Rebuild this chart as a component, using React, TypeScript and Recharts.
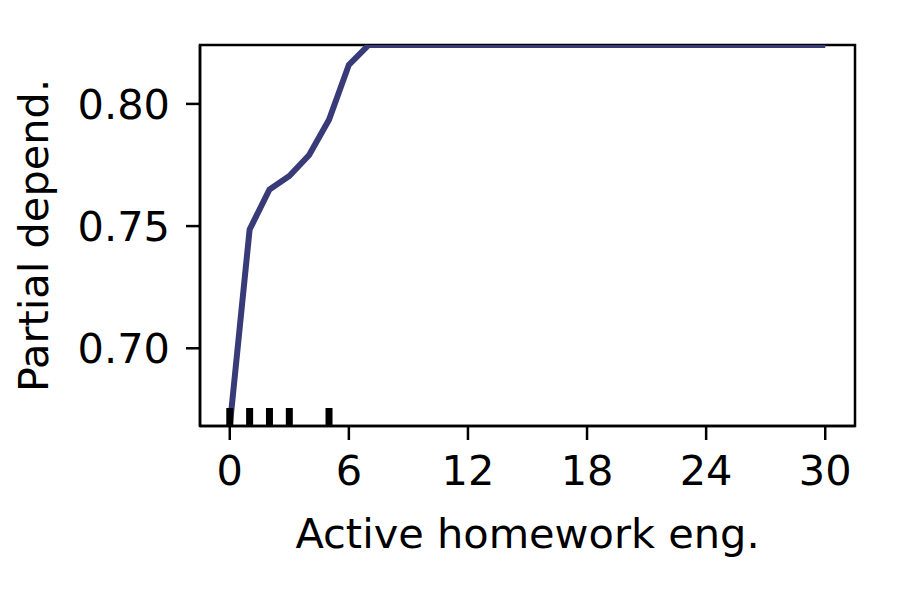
import React from "react";
import { ComposedChart, Line, Scatter, XAxis, YAxis, ReferenceArea } from "recharts";

const xValues = [0, 1, 2, 3, 4, 5, 6, 7, 10, 15, 20, 25, 30];
const pdValues = [0.6682, 0.7486, 0.765, 0.7705, 0.7791, 0.7935, 0.816, 0.8241, 0.8241, 0.8241, 0.8241, 0.8241, 0.8241];
const rugValues = [0, 1, 2, 3, 5];
const xTicks = [0, 6, 12, 18, 24, 30];
const yTicks = [0.7, 0.75, 0.8];
const yMin = 0.6682;
const yMax = 0.8241;
const xMin = -1.5;
const xMax = 31.5;

const lineData = xValues.map((x, i) => ({ x, y: pdValues[i] }));
const rugData = rugValues.map((x) => ({ x, y: yMin }));

const FONT = "DejaVu Sans";
const FS = 41.5;

const RugMark = (props: any) => {
  const { cx, cy } = props;
  if (cx == null || cy == null) return null;
  return <rect x={cx - 3.5} y={cy - 18} width={7} height={18} fill="#000" />;
};

const XLabel = (props: any) => {
  const vb = props.viewBox || {};
  return (
    <text x={vb.x + vb.width / 2} y={vb.y + 122} textAnchor="middle" fontFamily={FONT} fontSize={FS} fill="#000">
      Active homework eng.
    </text>
  );
};

const YLabel = (props: any) => {
  const vb = props.viewBox || {};
  const cx = vb.x + 48;
  const cy = vb.y + vb.height / 2;
  return (
    <text x={cx} y={cy} transform={`rotate(-90, ${cx}, ${cy})`} textAnchor="middle" fontFamily={FONT} fontSize={FS} fill="#000">
      Partial depend.
    </text>
  );
};

export default function App() {
  return (
    <div style={{ position: "absolute", left: 0, top: 0, background: "#fff" }}>
      <ComposedChart width={900} height={600} margin={{ top: 45, right: 45, bottom: 0, left: 0 }}>
        <XAxis
          xAxisId="main"
          dataKey="x"
          type="number"
          domain={[xMin, xMax]}
          ticks={xTicks}
          height={174}
          tickSize={14}
          tickMargin={16}
          axisLine={{ stroke: "#000", strokeWidth: 2.5 }}
          tickLine={{ stroke: "#000", strokeWidth: 2.5 }}
          tick={{ fill: "#000", fontSize: FS, fontFamily: FONT }}
          label={<XLabel />}
          allowDataOverflow
        />
        <YAxis
          yAxisId="main"
          type="number"
          domain={[yMin, yMax]}
          ticks={yTicks}
          width={200}
          tickSize={14}
          tickMargin={16}
          tickFormatter={(v: number) => v.toFixed(2)}
          axisLine={{ stroke: "#000", strokeWidth: 2.5 }}
          tickLine={{ stroke: "#000", strokeWidth: 2.5 }}
          tick={{ fill: "#000", fontSize: FS, fontFamily: FONT }}
          label={<YLabel />}
          allowDataOverflow
        />
        <Line
          xAxisId="main"
          yAxisId="main"
          data={lineData}
          dataKey="y"
          type="linear"
          stroke="#393b79"
          strokeWidth={6}
          dot={false}
          activeDot={false}
          isAnimationActive={false}
        />
        <Scatter
          xAxisId="main"
          yAxisId="main"
          data={rugData}
          dataKey="y"
          shape={<RugMark />}
          isAnimationActive={false}
        />
        <ReferenceArea
          xAxisId="main"
          yAxisId="main"
          x1={xMin}
          x2={xMax}
          y1={yMin}
          y2={yMax}
          fill="none"
          fillOpacity={0}
          stroke="#000"
          strokeWidth={2.5}
          ifOverflow="visible"
        />
      </ComposedChart>
    </div>
  );
}
